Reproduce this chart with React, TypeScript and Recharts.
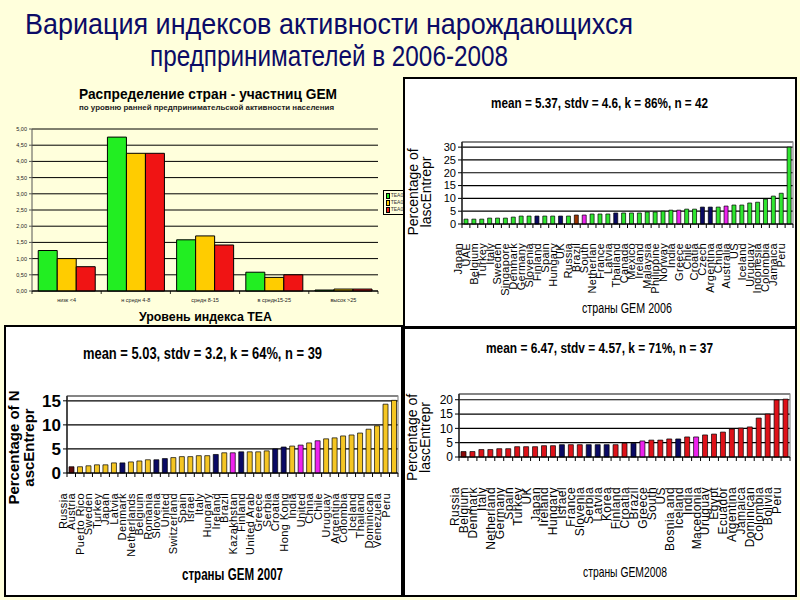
import React from 'react';
import { BarChart, Bar, XAxis, YAxis, CartesianGrid, Cell, Legend, ReferenceArea } from 'recharts';

const SANS = '"Liberation Sans", Arial, sans-serif';
const NARROW = '"Liberation Sans Narrow", "Liberation Sans", Arial, sans-serif';
const SLIDE_BG = '#FFFFDC';

// ---------- texts ----------
const slideTitle = ['Вариация индексов активности нарождающихся', 'предпринимателей в 2006-2008'];
const levelTitle = 'Распределение стран - участниц GEM';
const levelSubtitle = 'по уровню ранней предпринимательской активности населения';
const levelAxisTitle = 'Уровень индекса TEA';
const statTitles = ['mean = 5.37, stdv = 4.6, k = 86%, n = 42', 'mean = 5.03, stdv = 3.2, k = 64%, n = 39', 'mean = 6.47, stdv = 4.57, k = 71%, n = 37'];
const countryAxisTitles = ['страны GEM 2006', 'страны GEM 2007', 'страны GEM2008'];
const yTitleLines2006 = ['Percentage of', 'lascEntrepr'];
const yTitleLines2007 = ['Percentage of N', 'ascEntrepr'];
const yTitleLines2008 = ['Percentage of', 'lascEntrepr'];

// ---------- chart 1 data ----------
const levelCategories = ['низк <4', 'н средн 4-8', 'средн 8-15', 'в средн15-25', 'высок >25'];
const tea06 = [1.25, 4.75, 1.58, 0.58, 0.03];
const tea07 = [1.0, 4.25, 1.7, 0.42, 0.06];
const tea08 = [0.75, 4.25, 1.42, 0.5, 0.06];
const levelSeries = ['TEA06', 'TEA07', 'TEA08'];
const levelColors = ['#22EE22', '#FFCC00', '#F01414'];
const levelTicks = [0, 0.5, 1, 1.5, 2, 2.5, 3, 3.5, 4, 4.5, 5];

// ---------- country data ----------
const countries2006 = ['Japan', 'UAE', 'Belgium', 'Turkey', 'Italy', 'Sweden', 'Singapore', 'Denmark', 'Germany', 'Slovenia', 'Finland', 'Spain', 'Hungary', 'UK', 'Russia', 'Brazil', 'South', 'Netherlan', 'France', 'Latvia', 'Thailand', 'Canada', 'Mexico', 'Ireland', 'Malaysia', 'Philippine', 'Norway', 'India', 'Greece', 'Chile', 'Croatia', 'Czech', 'Argentina', 'China', 'Australia', 'US', 'Iceland', 'Uruguay', 'Indonesia', 'Colombia', 'Jamaica', 'Peru'];
const values2006 = [1.9, 1.9, 1.9, 2.3, 2.3, 2.3, 2.7, 3.1, 3.1, 3.1, 3.1, 3.1, 3.1, 3.1, 3.5, 3.5, 3.9, 3.9, 3.9, 4.3, 4.3, 4.3, 4.3, 4.7, 4.7, 5.0, 5.4, 5.4, 5.8, 5.8, 6.6, 6.6, 6.6, 7.0, 7.4, 7.4, 8.2, 8.5, 9.7, 10.9, 12.0, 30.0];

const countries2007 = ['Russia', 'Austria', 'Puerto Rico', 'Sweden', 'Turkey', 'Japan', 'Latvia', 'Denmark', 'Netherlands', 'Belgium', 'Romania', 'Slovenia', 'United', 'Switzerland', 'Spain', 'Israel', 'Italy', 'Hungary', 'Ireland', 'Brazil', 'Kazakhstan', 'Finland', 'United Arab', 'Greece', 'Serbia', 'Croatia', 'Hong Kong', 'India', 'United', 'China', 'Chile', 'Uruguay', 'Argentina', 'Colombia', 'Iceland', 'Thailand', 'Dominican', 'Venezuela', 'Peru'];
const values2007 = [1.3, 1.3, 1.5, 1.7, 1.7, 2.1, 2.1, 2.3, 2.5, 2.75, 2.75, 3.0, 3.2, 3.4, 3.4, 3.6, 3.6, 3.85, 4.2, 4.2, 4.4, 4.4, 4.4, 4.6, 5.0, 5.4, 5.6, 5.8, 6.25, 6.7, 7.1, 7.3, 7.7, 7.9, 8.3, 9.1, 9.8, 14.3, 15.1];

const countries2008 = ['Russia', 'Belgium', 'Denmark', 'Italy', 'Netherland', 'Germany', 'Spain', 'Turkey', 'UK', 'Japan', 'Ireland', 'Hungary', 'Israel', 'France', 'Slovenia', 'Serbia', 'Latvia', 'Korea', 'Finland', 'Croatia', 'Brazil', 'Greece', 'South', 'US', 'Bosnia and', 'Iceland', 'India', 'Macedonia', 'Uruguay', 'Egypt', 'Ecuador', 'Argentina', 'Jamaica', 'Dominican', 'Colombia', 'Bolivia', 'Peru'];
const values2008 = [1.9, 1.9, 2.6, 2.6, 2.9, 2.9, 3.6, 3.6, 3.6, 3.95, 3.95, 4.3, 4.3, 4.3, 4.3, 4.3, 4.3, 4.3, 4.8, 4.8, 5.6, 5.9, 5.9, 6.3, 6.3, 7.0, 7.0, 7.7, 8.0, 8.7, 9.8, 10.1, 10.5, 13.6, 15.0, 19.9, 20.2];

// country groups (highlight colours)
const transitionEconomies = ['Slovenia', 'Hungary', 'Latvia', 'Croatia', 'Czech', 'Romania', 'Kazakhstan', 'Serbia', 'Bosnia and'];
const bricCountries = ['Brazil', 'India', 'China'];
const russiaName = 'Russia';

const NAVY = '#0A0A64';
const MAGENTA = '#EE22EE';

const levelData = levelCategories.map((name, i) => ({ name, TEA06: tea06[i], TEA07: tea07[i], TEA08: tea08[i] }));

const colorFor = (name: string, base: string, russia: string) => {
  if (name === russiaName) return russia;
  if (transitionEconomies.includes(name)) return NAVY;
  if (bricCountries.includes(name)) return MAGENTA;
  return base;
};

// ---------- tick renderers ----------
function LevelTick(props: any) {
  const { x, y, payload, index, half, count } = props;
  return (
    <g>
      <line x1={x - half} x2={x - half} y1={y} y2={y + 3} stroke="#000" strokeWidth={0.8} />
      {index === count - 1 && <line x1={x + half} x2={x + half} y1={y} y2={y + 3} stroke="#000" strokeWidth={0.8} />}
      <text x={x} y={y + 11} textAnchor="middle" fontSize={5.5} fontFamily={SANS} fill="#222">{payload.value}</text>
    </g>
  );
}

function CountryTick(props: any) {
  const { x, y, payload, index, half, count, fontSize, gap, spacing } = props;
  const bx = x - half;
  const ty = y + gap;
  return (
    <g>
      <line x1={bx} x2={bx} y1={y} y2={y + 4} stroke="#000" strokeWidth={1} />
      {index === count - 1 && <line x1={x + half} x2={x + half} y1={y} y2={y + 4} stroke="#000" strokeWidth={1} />}
      <text x={bx} y={ty} transform={`rotate(-90 ${bx} ${ty})`} textAnchor="end" fontSize={fontSize} fontFamily={SANS} letterSpacing={spacing} fill="#000">{payload.value}</text>
    </g>
  );
}

function YTitle(props: any) {
  const { viewBox, lines, xs, size, weight, shift } = props;
  const vb = viewBox || { y: 0, height: 0 };
  const cy = vb.y + vb.height / 2 + shift;
  return (
    <g>
      {lines.map((t: string, i: number) => (
        <text key={i} x={xs[i]} y={cy} transform={`rotate(-90 ${xs[i]} ${cy})`} textAnchor="middle" fontSize={size} fontWeight={weight} fontFamily={SANS} fill="#000">{t}</text>
      ))}
    </g>
  );
}

function LevelLegend(props: any) {
  const items = props.payload || [];
  return (
    <div style={{ border: '1px solid #000', background: SLIDE_BG, padding: '1px 2px', width: 26, boxSizing: 'border-box' }}>
      {items.map((p: any) => (
        <div key={p.value} style={{ display: 'flex', alignItems: 'center', height: 7, fontSize: 5, lineHeight: '7px', fontFamily: SANS, color: '#333' }}>
          <span style={{ display: 'inline-block', width: 4, height: 4, background: p.color, border: '0.5px solid #000', marginRight: 1 }} />
          {p.value}
        </div>
      ))}
    </div>
  );
}

// ---------- chart 1 ----------
function LevelChart() {
  const W = 403, H = 245, yW = 32, mR = 25;
  const half = (W - yW - mR) / levelCategories.length / 2;
  return (
    <BarChart width={W} height={H} data={levelData} margin={{ top: 49, right: mR, bottom: 14, left: 0 }} barCategoryGap="9%" barGap={0}>
      <CartesianGrid vertical={false} stroke="#000" strokeWidth={1} />
      <XAxis dataKey="name" interval={0} height={20} tickSize={0} tickMargin={0} axisLine={{ stroke: '#000' }} tickLine={false}
        tick={<LevelTick half={half} count={levelCategories.length} />} />
      <YAxis width={yW} domain={[0, 5]} ticks={levelTicks} interval={0} tickFormatter={(v: number) => v.toFixed(2).replace('.', ',')}
        tick={{ fontSize: 5.5, fontFamily: SANS, fill: '#222' }} tickSize={3} tickMargin={2} axisLine={{ stroke: '#555' }} tickLine={{ stroke: '#555' }} />
      <Legend layout="vertical" align="center" verticalAlign="middle" wrapperStyle={{ left: 383, top: 110, width: 28 }} content={<LevelLegend />} />
      {levelSeries.map((s, i) => (
        <Bar key={s} dataKey={s} name={s} fill={levelColors[i]} stroke="#000" strokeWidth={1} isAnimationActive={false} />
      ))}
    </BarChart>
  );
}

// ---------- country charts ----------
function CountryChart(props: any) {
  const { countries, values, base, russia, W, H, yW, mTop, mRight, xH, yMax, yTicks, tickFont, tickWeight, tickFamily,
    labelFont, labelGap, labelSpacing, barSize, yTitle } = props;
  const data = countries.map((name: string, i: number) => ({ name, value: values[i] }));
  const half = (W - yW - mRight) / countries.length / 2;
  return (
    <BarChart width={W} height={H} data={data} margin={{ top: mTop, right: mRight, bottom: 0, left: 0 }}>
      <CartesianGrid vertical={false} stroke="#000" strokeWidth={1.2} />
      <ReferenceArea y1={0} y2={yMax} fill="none" stroke="#8C8C8C" strokeWidth={1.2} ifOverflow="visible" />
      <XAxis dataKey="name" interval={0} height={xH} tickSize={0} tickMargin={0} axisLine={{ stroke: '#000', strokeWidth: 1.2 }} tickLine={false}
        tick={<CountryTick half={half} count={countries.length} fontSize={labelFont} gap={labelGap} spacing={labelSpacing} />} />
      <YAxis width={yW} domain={[0, yMax]} ticks={yTicks} interval={0} tick={{ fontSize: tickFont, fontWeight: tickWeight, fontFamily: tickFamily, fill: '#000' }}
        tickSize={4} tickMargin={2} axisLine={{ stroke: '#000', strokeWidth: 1.2 }} tickLine={{ stroke: '#000' }}
        label={<YTitle {...yTitle} />} />
      <Bar dataKey="value" barSize={barSize} stroke="#000" strokeWidth={0.7} isAnimationActive={false}>
        {data.map((d: any, i: number) => (
          <Cell key={i} fill={colorFor(d.name, base, russia)} />
        ))}
      </Bar>
    </BarChart>
  );
}

function Panel({ left, top, width, height, children }: any) {
  return (
    <div style={{ position: 'absolute', left, top, width, height, background: '#fff', overflow: 'hidden' }}>
      {children}
      <div style={{ position: 'absolute', left: 0, top: 0, right: 0, bottom: 0, border: '2px solid #000', pointerEvents: 'none' }} />
    </div>
  );
}

function T({ x, y, w, size, weight = 'normal', family = SANS, fill = '#000', children }: any) {
  return (
    <text x={x} y={y} fontSize={size} fontWeight={weight} fontFamily={family} fill={fill} textLength={w} lengthAdjust="spacingAndGlyphs">{children}</text>
  );
}

export default function App() {
  return (
    <div style={{ position: 'absolute', left: 0, top: 0, width: 800, height: 600, background: SLIDE_BG, overflow: 'hidden' }}>
      <div style={{ position: 'absolute', left: 0, top: 80 }}>
        <LevelChart />
      </div>
      <Panel left={403} top={77} width={394} height={251}>
        <CountryChart countries={countries2006} values={values2006} base="#2FE62F" russia="#993300"
          W={394} H={251} yW={59} mTop={65} mRight={4} xH={104} yMax={32} yTicks={[0, 5, 10, 15, 20, 25, 30]}
          tickFont={11} tickWeight="normal" tickFamily={SANS} labelFont={11} labelGap={19} labelSpacing={0.3} barSize={4}
          yTitle={{ lines: yTitleLines2006, xs: [15, 28], size: 14, weight: 'normal', shift: 9 }} />
      </Panel>
      <Panel left={4} top={325} width={399} height={272}>
        <CountryChart countries={countries2007} values={values2007} base="#F5C623" russia="#5A0A0A"
          W={399} H={272} yW={63} mTop={71} mRight={5} xH={124} yMax={16} yTicks={[0, 5, 10, 15]}
          tickFont={17} tickWeight="bold" tickFamily={NARROW} labelFont={11} labelGap={20} labelSpacing={0.4} barSize={5}
          yTitle={{ lines: yTitleLines2007, xs: [15, 30], size: 15, weight: 'bold', shift: 13 }} />
      </Panel>
      <Panel left={403} top={327} width={394} height={270}>
        <CountryChart countries={countries2008} values={values2008} base="#DE1219" russia="#8B0A0A"
          W={394} H={270} yW={56} mTop={67} mRight={7} xH={140} yMax={22} yTicks={[0, 5, 10, 15, 20]}
          tickFont={12} tickWeight="normal" tickFamily={SANS} labelFont={12} labelGap={30} labelSpacing={0.4} barSize={5}
          yTitle={{ lines: yTitleLines2008, xs: [14, 27], size: 14, weight: 'normal', shift: 12 }} />
      </Panel>
      <svg width={800} height={600} style={{ position: 'absolute', left: 0, top: 0, pointerEvents: 'none' }}>
        <T x={25} y={34} w={608} size={29} fill="#0B0B66">{slideTitle[0]}</T>
        <T x={150} y={66} w={358} size={29} fill="#0B0B66">{slideTitle[1]}</T>
        <T x={79} y={99} w={258} size={14} weight="bold">{levelTitle}</T>
        <T x={79} y={110} w={255} size={6.5} weight="bold" fill="#222">{levelSubtitle}</T>
        <T x={139} y={321} w={133} size={12} weight="bold">{levelAxisTitle}</T>
        <T x={491} y={108} w={217} size={15} weight="bold" family={NARROW}>{statTitles[0]}</T>
        <T x={582} y={313} w={90} size={14} family={NARROW}>{countryAxisTitles[0]}</T>
        <T x={83} y={359} w={239} size={17} weight="bold" family={NARROW}>{statTitles[1]}</T>
        <T x={182} y={580} w={101} size={16} weight="bold" family={NARROW}>{countryAxisTitles[1]}</T>
        <T x={486} y={353} w={227} size={15} weight="bold" family={NARROW}>{statTitles[2]}</T>
        <T x={583} y={577} w={84} size={15} family={NARROW}>{countryAxisTitles[2]}</T>
      </svg>
    </div>
  );
}
